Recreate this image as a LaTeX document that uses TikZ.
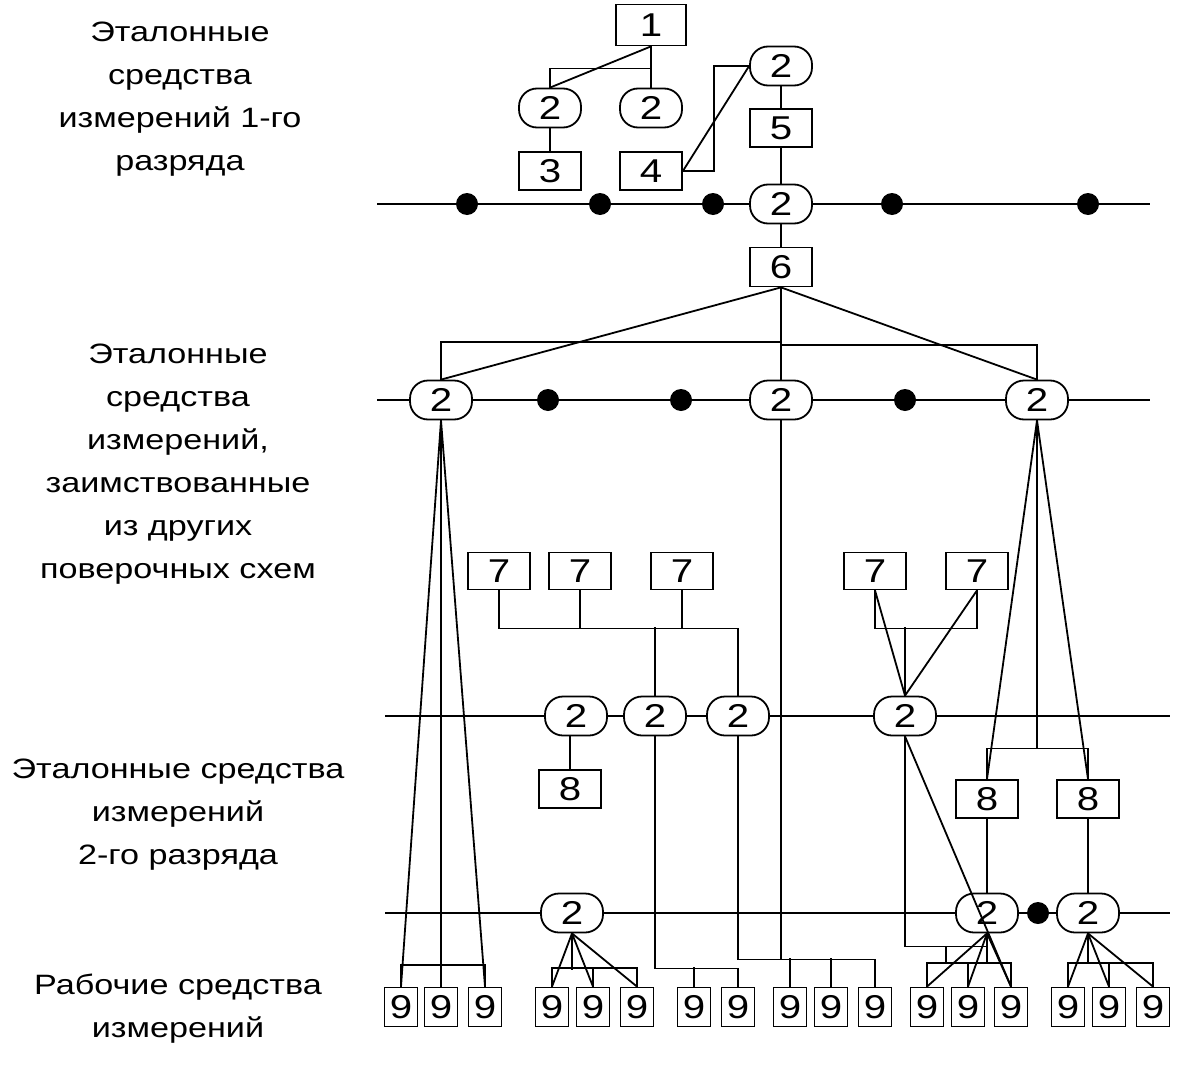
\documentclass[tikz,border=0pt]{standalone}
\usepackage{fontspec}
\setmainfont{Liberation Sans}[FakeStretch=1.22]
\tikzset{
  box/.style={draw,fill=white,minimum width=62pt,minimum height=38pt,inner sep=0pt,
    font=\fontsize{33}{33}\selectfont},
  pill/.style={box,rounded corners=18pt,minimum height=39pt},
  nine/.style={box,minimum width=33pt,minimum height=39pt},
  dot/.style={circle,fill=black,minimum size=22pt,inner sep=0pt},
  lbl/.style={align=center,font=\fontsize{28}{43}\selectfont},
}
\begin{document}
\begin{tikzpicture}[x=1pt,y=-1pt,line width=1.8pt]
\useasboundingbox (0,0) rectangle (1189,1084);
% rails
\coordinate (r1a) at (377,204); \coordinate (r1b) at (1150,204);
\coordinate (r2a) at (377,400); \coordinate (r2b) at (1150,400);
\coordinate (r3a) at (385,716); \coordinate (r3b) at (1170,716);
\coordinate (r4a) at (385,913); \coordinate (r4b) at (1170,913);
\draw (r1a) -- (r1b); \draw (r2a) -- (r2b);
\draw (r3a) -- (r3b); \draw (r4a) -- (r4b);

% labels
\node[lbl] (t1) at (180,99) {Эталонные\\средства\\измерений 1-го\\разряда};
\node[lbl] (t2) at (178,464) {Эталонные\\средства\\измерений,\\заимствованные\\из других\\поверочных схем};
\node[lbl] (t3) at (178,815) {Эталонные средства\\измерений\\2-го разряда};
\node[lbl] (t4) at (178,1009) {Рабочие средства\\измерений};

% 1st grade
\node[box,minimum width=70pt,minimum height=41pt] (n1) at (651,25) {1};
\node[pill] (a2) at (550,108) {2};
\node[pill] (b2) at (651,108) {2};
\node[pill] (c2) at (781,66) {2};
\node[box] (n3) at (550,171) {3};
\node[box] (n4) at (651,171) {4};
\node[box] (n5) at (781,128) {5};
\node[pill] (d2) at (781,204) {2};
\node[box,minimum height=39pt] (n6) at (781,267) {6};
\foreach \x [count=\i] in {467,600,713,892,1088}
  \node[dot] (p\i) at (\x,204) {};

\draw (n1.south) -- ++(0,22) -| (a2.north);
\draw (n1.south) -- (a2.north);
\draw (n1.south) -- (b2.north);
\draw (a2) -- (n3);
\draw (n4.east) -- ++(31,0) |- (c2.west);
\draw (n4.east) -- (c2.west);
\draw (c2) -- (n5); \draw (n5) -- (d2); \draw (d2) -- (n6);

% borrowed
\node[pill] (e2l) at (441,400) {2};
\node[pill] (e2m) at (781,400) {2};
\node[pill] (e2r) at (1037,400) {2};
\foreach \x [count=\i] in {548,681,905}
  \node[dot] (q\i) at (\x,400) {};

\draw (n6.south) -- (e2l.north);
\draw (n6.south) -- (e2r.north);
\draw (n6.south) -- (e2m.north);
\draw (e2m.north) ++(0,-38) -| (e2l.north);
\draw (e2m.north) ++(0,-35) -| (e2r.north);

% 2nd grade
\foreach \x [count=\i] in {499,580,682,875,977}
  \node[box,minimum height=37pt] (s\i) at (\x,571) {7};
\node[pill] (g1) at (576,716) {2};
\node[pill] (g2) at (655,716) {2};
\node[pill] (g3) at (738,716) {2};
\node[pill] (g4) at (905,716) {2};
\node[box] (h1) at (570,789) {8};
\node[box] (h2) at (987,799) {8};
\node[box] (h3) at (1088,799) {8};

\draw (s1.south) -- ++(0,38) -| (g3.north);
\draw (s2.south) -- ++(0,38);
\draw (s3.south) -- ++(0,38);
\draw (g2.north) -- ++(0,-69);
\draw (s4.south) -- ++(0,38) -| (s5.south);
\draw (g4.north) -- ++(0,-69);
\draw (s4.south) -- (g4.north);
\draw (s5.south) -- (g4.north);
\draw (h1.north) -- (h1.north |- g1.south);
\draw (e2r.south) -- ++(0,328) -| (h2.north);
\draw (e2r.south) ++(0,328) -| (h3.north);
\draw (e2r.south) -- (h2.north);
\draw (e2r.south) -- (h3.north);

\node[pill] (k1) at (572,913) {2};
\node[pill] (k2) at (987,913) {2};
\node[pill] (k3) at (1088,913) {2};
\node[dot] (q4) at (1038,913) {};
\draw (h2) -- (k2); \draw (h3) -- (k3);

% working
\foreach \x [count=\i] in {401,441,485,552,593,637,694,738,790,831,875,927,968,1011,1068,1109,1153}
  \node[nine] (w\i) at (\x,1007) {9};

\draw (e2l.south) -- (w1.north);
\draw (e2l.south) -- (w2.north);
\draw (e2l.south) -- (w3.north);
\draw (w1.north) -- ++(0,-22) -| (w3.north);

\draw (k1.south) -- ++(0,37);
\draw (w4.north) -- ++(0,-19) -| (w6.north);
\draw (w5.north) -- ++(0,-19);
\foreach \j in {4,5,6} \draw (k1.south) -- (w\j.north);

\draw (g2.south) -- ++(0,232) -| (w8.north);
\draw (w7.north) -- ++(0,-20);
\draw (g3.south) -- ++(0,223) -| (w11.north);
\draw (w9.north) -- ++(0,-29);
\draw (w10.north) -- ++(0,-29);
\draw (e2m.south) -- ++(0,539);

\draw (g4.south) -- ++(0,210) coordinate (tg) -- (tg -| k2.south);
\draw (tg) ++(41,0) -- ++(0,17);
\draw (g4.south) -- (w14.north);
\draw (k2.south) -- ++(0,31);
\draw (w12.north) -- ++(0,-24) -| (w14.north);
\draw (w13.north) -- ++(0,-24);
\foreach \j in {12,13,14} \draw (k2.south) -- (w\j.north);

\draw (k3.south) -- ++(0,31);
\draw (w15.north) -- ++(0,-24) -| (w17.north);
\draw (w16.north) -- ++(0,-24);
\foreach \j in {15,16,17} \draw (k3.south) -- (w\j.north);
\end{tikzpicture}
\end{document}
